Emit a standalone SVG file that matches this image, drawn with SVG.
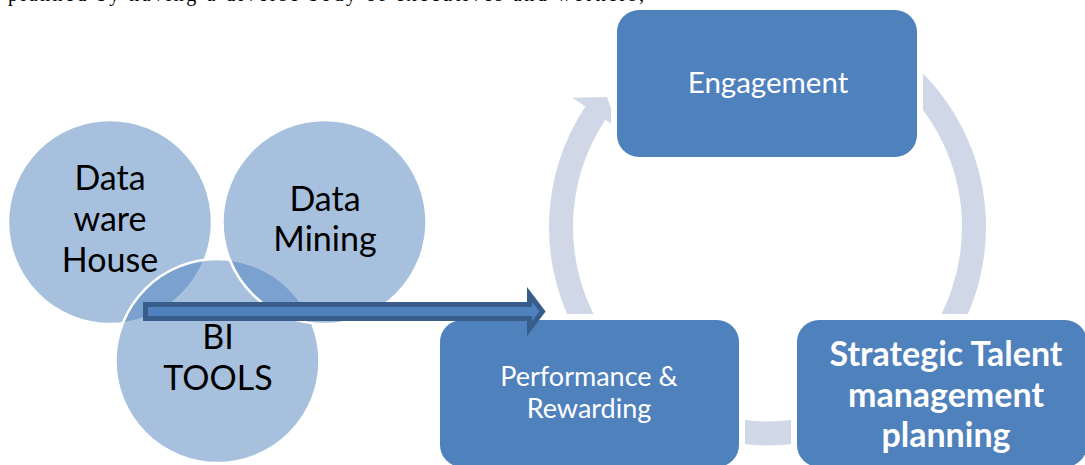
<svg xmlns="http://www.w3.org/2000/svg" width="1085" height="465" viewBox="0 0 1085 465">
  <style>
    .circ { fill: #4F81BD; fill-opacity: 0.5; stroke: #FFFFFF; stroke-width: 2.5; }
    .ctext { font-family: Lato, "Liberation Sans", sans-serif; font-size: 34px; fill: #000000; text-anchor: middle; }
    .box { fill: #4F81BD; }
    .btext { font-family: Lato, "Liberation Sans", sans-serif; fill: #FFFFFF; text-anchor: middle; }
    .arc { fill: #D0D8E8; }
    .big { fill: #4F81BD; stroke: #385D8A; stroke-width: 5; stroke-linejoin: miter; }
    .top { font-family: "Liberation Serif", serif; font-size: 20px; fill: #000000; }
  </style>
  <defs>
    <mask id="gap" maskUnits="userSpaceOnUse" x="0" y="0" width="1085" height="465">
      <rect x="0" y="0" width="1085" height="465" fill="#FFFFFF"/>
      <rect x="611" y="4" width="312" height="159" rx="28" fill="#000000"/>
      <rect x="434" y="314" width="311" height="159" rx="28" fill="#000000"/>
      <rect x="791" y="314" width="302" height="159" rx="28" fill="#000000"/>
    </mask>
  </defs>

  <g id="node-datawarehouse">
    <circle class="circ" cx="110" cy="222" r="102"/>
  </g>
  <g id="node-bitools">
    <circle class="circ" cx="217.5" cy="361" r="102"/>
  </g>
  <g id="node-datamining">
    <circle class="circ" cx="324.5" cy="222" r="102"/>
  </g>
  <g id="circle-labels">
    <text class="ctext" x="110" y="190">Data</text>
    <text class="ctext" x="110" y="231">ware</text>
    <text class="ctext" x="110" y="272">House</text>
    <text class="ctext" x="325" y="211">Data</text>
    <text class="ctext" x="325" y="251">Mining</text>
    <text class="ctext" x="218" y="349">BI</text>
    <text class="ctext" x="218" y="390">TOOLS</text>
  </g>

  <g id="node-engagement">
    <rect class="box" x="617" y="10" width="300" height="147" rx="22"/>
    <text class="btext" x="768" y="93" font-size="29.5">Engagement</text>
  </g>
  <g id="node-performance">
    <rect class="box" x="440" y="320" width="299" height="147" rx="22"/>
    <text class="btext" x="589" y="386" font-size="27">Performance &amp;</text>
    <text class="btext" x="589" y="418" font-size="27">Rewarding</text>
  </g>
  <g id="node-strategic">
    <rect class="box" x="797" y="320" width="290" height="147" rx="22"/>
    <text class="btext" x="946" y="366" font-size="34" font-weight="bold">Strategic Talent</text>
    <text class="btext" x="946" y="407" font-size="34" font-weight="bold">management</text>
    <text class="btext" x="946" y="447" font-size="34" font-weight="bold">planning</text>
  </g>

  <g id="connectors">
    <g mask="url(#gap)">
      <path class="arc" d="M578.28,336.25 A218.5,218.5 0 0,1 585.30,106.40 L572.37,97.85 L607,97 L617.4,127.65 L605.31,119.65 A194.5,194.5 0 0,0 599.06,324.25 Z"/>
      <path class="arc" d="M876.75,37.77 A218.5,218.5 0 0,1 956.73,336.25 L935.94,324.25 A194.5,194.5 0 0,0 864.75,58.56 Z"/>
      <path class="arc" d="M658.25,416.23 A218.5,218.5 0 0,0 876.75,416.23 L864.75,395.44 A194.5,194.5 0 0,1 670.25,395.44 Z"/>
    </g>
    <path class="big" d="M145.5,304.5 L529.5,304.5 L529.5,294.5 L542.5,311.5 L529.5,328.5 L529.5,318.5 L145.5,318.5 Z"/>
  </g>

  <text class="top" x="8" y="1" textLength="636" lengthAdjust="spacing">planned by having a diverse body of executives and workers,</text>
</svg>
